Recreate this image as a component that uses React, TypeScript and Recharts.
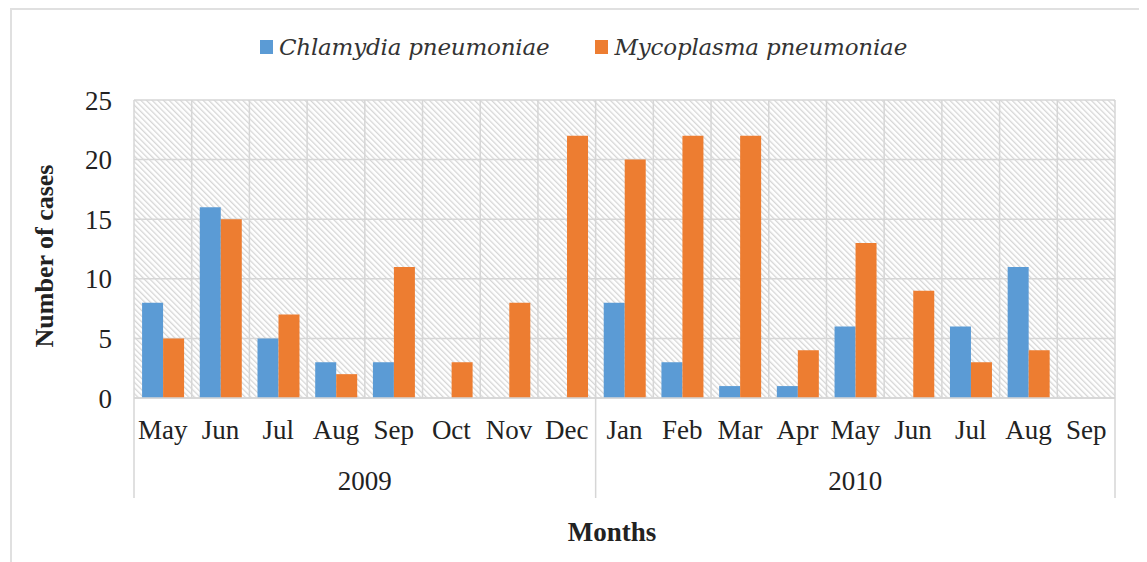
import { Bar, BarChart, CartesianGrid, Legend, XAxis, YAxis } from "recharts";

const months = ["May", "Jun", "Jul", "Aug", "Sep", "Oct", "Nov", "Dec", "Jan", "Feb", "Mar", "Apr", "May", "Jun", "Jul", "Aug", "Sep"];
const years = ["2009", "2010"];
const monthsPerYear = [8, 9];
const chlamydia = [8, 16, 5, 3, 3, 0, 0, 0, 8, 3, 1, 1, 6, 0, 6, 11, 0];
const mycoplasma = [5, 15, 7, 2, 11, 3, 8, 22, 20, 22, 22, 4, 13, 9, 3, 4, 0];
const yTicks = [0, 5, 10, 15, 20, 25];

const seriesNames = ["Chlamydia pneumoniae", "Mycoplasma pneumoniae"];
const blue = "#5B9BD5";
const orange = "#ED7D31";
const gridColor = "#d6d6d6";
const textColor = "#222";
const font = "'Liberation Serif', 'Times New Roman', serif";

const W = 1139;
const H = 554;
const margin = { top: 92, right: 32, left: 0, bottom: 64 };
const plotWidth = W - 126 - margin.right;
const band = plotWidth / months.length;

const data = months.map((m, i) => ({
  idx: String(i),
  month: m,
  chlamydia: chlamydia[i],
  mycoplasma: mycoplasma[i]
}));

const MonthTick = ({ x, y, payload }: any) => (
  <text x={x} y={y + 41} textAnchor="middle" fontSize={27} fill={textColor}>
    {months[Number(payload.value)]}
  </text>
);

const YearTick = ({ x, y, payload }: any) => {
  const i = Number(payload.value);
  const parts: any[] = [];
  let start = 0;
  years.forEach((yr, g) => {
    const size = monthsPerYear[g];
    if (i === start) {
      parts.push(<line key={`l${g}`} x1={x - band / 2} x2={x - band / 2} y1={y - 50} y2={y + 50} stroke={gridColor} strokeWidth={1.5} />);
      parts.push(
        <text key={`t${g}`} x={x + ((size - 1) / 2) * band} y={y + 42} textAnchor="middle" fontSize={27} fill={textColor}>
          {yr}
        </text>
      );
    }
    if (i === start + size - 1 && g === years.length - 1) {
      parts.push(<line key={`r${g}`} x1={x + band / 2} x2={x + band / 2} y1={y - 50} y2={y + 50} stroke={gridColor} strokeWidth={1.5} />);
    }
    start += size;
  });
  return <g>{parts}</g>;
};

const LegendContent = ({ payload }: any) => (
  <div style={{ display: "flex", justifyContent: "center", gap: 46, paddingLeft: 12 }}>
    {(payload || []).map((item: any) => (
      <div key={item.value} style={{ display: "flex", alignItems: "center" }}>
        <span style={{ width: 13, height: 14, background: item.color, display: "inline-block", marginRight: 6 }} />
        <span style={{ fontStyle: "italic", fontSize: 23, color: "#333", fontFamily: "'DejaVu Serif', serif", letterSpacing: -0.2 }}>
          {item.value}
        </span>
      </div>
    ))}
  </div>
);

export default function App() {
  return (
    <div style={{ position: "relative", width: W, height: H, fontFamily: font }}>
      <div
        style={{
          position: "absolute",
          left: 2,
          top: 0,
          width: 1133,
          height: 570,
          border: "2px solid #e0e0e0",
          boxSizing: "border-box"
        }}
      />
      <div style={{ position: "absolute", left: 0, top: 0 }}>
        <BarChart width={W} height={H} data={data} margin={margin} barGap={0} barCategoryGap="14%">
          <defs>
            <pattern id="hatch" width="4" height="4" patternUnits="userSpaceOnUse" patternTransform="rotate(-45)">
              <rect width="4" height="4" fill="#ffffff" />
              <rect x="0" y="0" width="1.3" height="4" fill="#d6d6d6" />
            </pattern>
          </defs>
          <CartesianGrid
            stroke={gridColor}
            strokeWidth={1.5}
            fill="url(#hatch)"
            fillOpacity={1}
            verticalCoordinatesGenerator={({ offset }: any) =>
              months.map((_, i) => offset.left + (i * offset.width) / months.length).concat([offset.left + offset.width])
            }
          />
          <XAxis
            dataKey="idx"
            interval={0}
            height={50}
            tickSize={0}
            tickMargin={0}
            tickLine={false}
            axisLine={{ stroke: gridColor, strokeWidth: 1.5 }}
            tick={<MonthTick />}
          />
          <XAxis
            xAxisId="year"
            dataKey="idx"
            interval={0}
            height={50}
            tickSize={0}
            tickMargin={0}
            tickLine={false}
            axisLine={false}
            tick={<YearTick />}
          />
          <YAxis
            width={126}
            domain={[0, 25]}
            ticks={yTicks}
            axisLine={false}
            tickLine={false}
            tickSize={0}
            tickMargin={22}
            tick={{ fontSize: 27, fill: textColor }}
          />
          <Legend
            layout="vertical"
            align="center"
            verticalAlign="top"
            wrapperStyle={{ left: 0, top: 26, width: W, height: 0, overflow: "visible" }}
            content={<LegendContent />}
          />
          <Bar dataKey="chlamydia" name={seriesNames[0]} fill={blue} isAnimationActive={false} />
          <Bar dataKey="mycoplasma" name={seriesNames[1]} fill={orange} isAnimationActive={false} />
          <text x={604} y={533} textAnchor="middle" fontSize={27} fontWeight="bold" fill={textColor}>
            Months
          </text>
          <text
            x={36}
            y={248}
            transform="rotate(-90, 36, 248)"
            textAnchor="middle"
            dominantBaseline="central"
            fontSize={26}
            fontWeight="bold"
            fill={textColor}
          >
            Number of cases
          </text>
        </BarChart>
      </div>
    </div>
  );
}
